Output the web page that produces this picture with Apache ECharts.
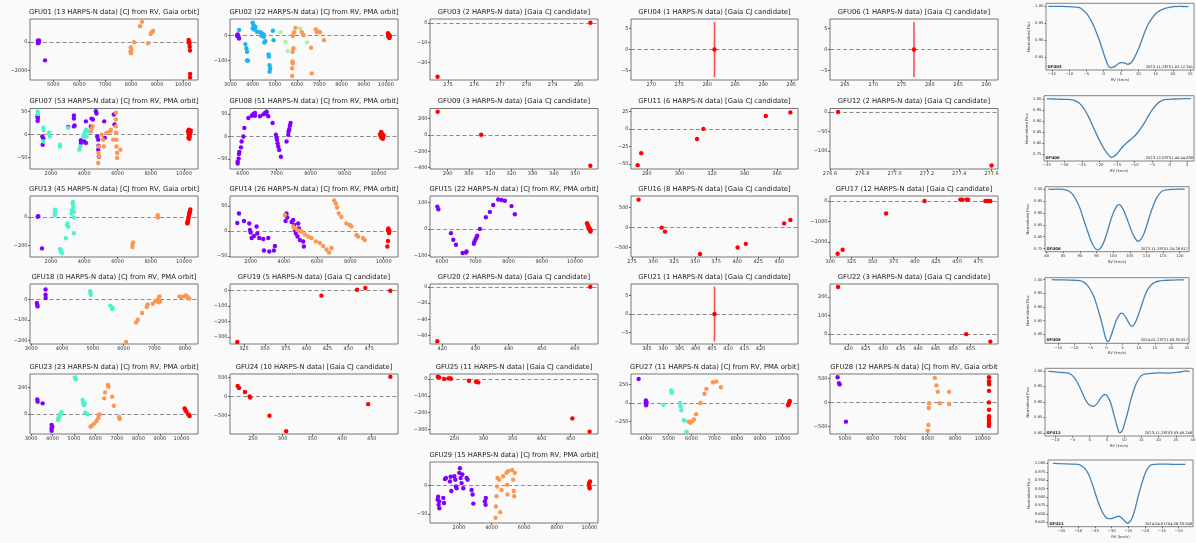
<!DOCTYPE html>
<html><head><meta charset="utf-8">
<script src="https://cdn.jsdelivr.net/npm/echarts@6/dist/echarts.min.js"></script>
<style>html,body{margin:0;padding:0;background:#fafafa}#c{width:1196px;height:543px}</style>
</head><body><div id="c"></div><script>
// ---------------- DATA ----------------
const GFU01_purple=[[4400,80],[4420,20],[4440,-40],[4410,-90],[4450,110],[4430,-10],[4680,-1280]];
const GFU01_orange=[[8346,1090],[8423,1400],[7987,-370],[8013,-560],[8000,-790],[7974,-670],[8115,-20],[8654,-90],[8756,560],[8808,700],[8846,770]];
const GFU01_red=[[10218,140],[10230,60],[10240,0],[10250,-90],[10260,-330],[10270,-600],[10275,-2230],[10275,-2470],[10225,-30]];
const GFU01_xr=[4100,10580], GFU01_yr=[-2650,1600], GFU01_xt=[5000,6000,7000,8000,9000,10000], GFU01_yt=[-2000,0];

const GFU02_purple=[[3328,5],[3358,-4],[3388,-11],[3300,0]];
const GFU02_blue=[[3388,23],[4000,53],[4045,43],[4120,36],[4100,30],[4000,30],[4060,25],[4194,16],[4343,14],[4420,9],[4493,5],[4400,0],[4500,-4],[4567,-22],[4522,-28],[4940,-18],[4910,20],[3672,-34],[3716,-51],[3746,-65],[3746,-101],[3790,-101],[4716,-76],[4731,-85],[4761,-120],[4761,-146],[4790,-133]];
const GFU02_green=[[5254,14],[5478,-24],[5582,-62],[6134,30],[6448,-27]];
const GFU02_orange=[[5925,32],[5866,14],[5806,0],[5836,-51],[5800,-65],[5791,-105],[5806,-112],[5776,-132],[5776,-164],[6209,15],[6284,3],[6627,-49],[6657,-153],[6836,26],[6880,15],[6970,16],[7030,14],[7209,-18]];
const GFU02_red=[[10090,10],[10110,5],[10120,0],[10130,-3],[10140,-6],[10150,-9],[10160,2],[10100,-2],[10170,-5]];
const GFU02_xr=[2980,10540], GFU02_yr=[-180,68], GFU02_xt=[3000,4000,5000,6000,7000,8000,9000,10000], GFU02_yt=[-100,0];

const GFU03_red=[[274.6,-27.1],[280.45,0]];
const GFU03_xr=[274.31,280.74], GFU03_yr=[-28.7,1.9], GFU03_xt=[275,276,277,278,279,280], GFU03_yt=[-20,-10,0];

const GFU04_red=[[281.3,0]], GFU04_err=[[281.3,-6.6],[281.3,6.6]];
const GFU04_xr=[266.4,296.2], GFU04_yr=[-7.3,7.3], GFU04_xt=[270,275,280,285,290,295], GFU04_yt=[-5,0,5];

const GFU06_red=[[277.2,0]], GFU06_err=[[277.2,-6.6],[277.2,6.6]];
const GFU06_xr=[262.35,292.06], GFU06_yr=[-7.3,7.3], GFU06_xt=[265,270,275,280,285,290], GFU06_yt=[-5,0,5];

const GFU07_purple=[[1200,30],[1210,36],[1190,40],[1220,44],[1500,-22],[1480,-4],[1540,-8],[3040,17],[3380,42],[3380,35],[3380,18],[3420,20],[3800,-12],[3800,-18],[4100,29],[4000,-15],[4100,-18],[4400,18],[4440,35],[4520,33],[4700,51],[4740,46],[4780,-4],[4840,-11],[4860,-24],[4840,-33],[4880,-48],[5200,29],[5240,-7],[5780,44],[5820,22]];
const GFU07_teal=[[1200,50],[1220,45],[1540,15],[1560,10],[1540,-15],[1900,5],[1900,0],[1940,-4],[2540,-22],[2540,-26],[3040,15],[3700,-33],[3760,-26],[4000,1],[4060,7],[4120,11],[4200,7],[4140,-4],[3940,-4]];
const GFU07_orange=[[4400,7],[4440,13],[4500,18],[4880,-26],[4860,-40],[4900,-48],[4840,-62],[5040,0],[5140,-11],[5180,-26],[5340,4],[5540,7],[5600,11],[5900,48],[5900,33],[5900,18],[5920,4],[5940,-11],[5940,-26],[5980,-40],[5980,-51],[6180,-33],[5740,-11]];
const GFU07_red=[[10240,7],[10280,4],[10300,0],[10340,-4],[10380,5],[10260,-7],[10360,2],[10400,9],[10320,-9],[10280,11]];
const GFU07_xr=[740,10840], GFU07_yr=[-75,57], GFU07_xt=[2000,4000,6000,8000,10000], GFU07_yt=[-50,0,50];

const GFU08_purple=[[5853,-60],[5853,-56],[5882,-49],[5892,-39],[5902,-34],[5951,-24],[5970,-11],[6020,0],[6049,19],[6167,41],[6265,46],[6314,50],[6363,52],[6363,46],[6510,45],[6608,49],[6657,52],[6706,55],[6700,50],[6755,45],[6882,30],[6980,4],[7000,-2],[7010,-7],[7029,-15],[7049,-22],[7078,-30],[7127,-45],[7294,-11],[7343,4],[7353,11],[7372,16],[7392,24],[7412,30]];
const GFU08_red=[[10050,5],[10070,0],[10090,-3],[10100,8],[10120,2],[10130,-5],[10150,3],[10080,10],[10140,-2]];
const GFU08_xr=[5627,10578], GFU08_yr=[-72,62], GFU08_xt=[6000,7000,8000,9000,10000], GFU08_yt=[-50,0,50];

const GFU09_red=[[285.3,280],[305.8,0],[357.2,-376]];
const GFU09_xr=[281.7,360.8], GFU09_yr=[-416,320], GFU09_xt=[290,300,310,320,330,340,350], GFU09_yt=[-400,-200,0,200];

const GFU11_red=[[274.3,-51.9],[276.5,-34.7],[310.8,-14.4],[314.7,0],[353.1,18.5],[368.2,23.6]];
const GFU11_xr=[270.2,372.9], GFU11_yr=[-57.4,29.2], GFU11_xt=[280,300,320,340,360], GFU11_yt=[-50,-25,0,25];

const GFU12_red=[[276.65,0],[277.6,-138]];
const GFU12_xr=[276.6,277.64], GFU12_yr=[-147,9], GFU12_xt=[276.6,276.8,277.0,277.2,277.4,277.6], GFU12_yt=[-100,-50,0];

const GFU13_purple=[[1200,0],[1240,5],[1460,-220]];
const GFU13_teal=[[2240,50],[2240,34],[2260,23],[2220,12],[2540,-225],[2600,-241],[2660,-253],[2620,-235],[2900,-149],[2960,-57],[3040,-69],[3000,-46],[3240,23],[3260,46],[3300,92],[3320,103],[3340,69],[3380,34],[3380,-5],[3380,-115]];
const GFU13_orange=[[6900,-195],[6940,-179],[6900,-211],[8420,11],[8440,-5]];
const GFU13_red=[[10200,-46],[10220,-40],[10240,-28],[10260,-12],[10280,0],[10300,12],[10320,23],[10340,34],[10360,41],[10380,51],[10210,-35],[10330,28]];
const GFU13_xr=[740,10840], GFU13_yr=[-280,145], GFU13_xt=[2000,4000,6000,8000,10000], GFU13_yt=[-200,0];

const GFU14_purple=[[1200,16],[1300,35],[1600,20],[1920,15],[1960,2],[2000,-3],[2060,-14],[2200,-10],[2360,9],[2400,-5],[2520,-14],[2760,-16],[2800,-39],[3060,-14],[3120,-41],[3400,-39],[3460,-30],[4100,20],[4160,35],[4200,27],[4460,18],[4560,22],[4620,12],[4660,2],[4720,-5],[4820,-11],[4860,15],[4900,5],[4960,-18],[5160,-21],[5200,-31]];
const GFU14_orange=[[4060,32],[4560,9],[4640,6],[4800,2],[4900,0],[5060,-1],[5260,-7],[5460,-11],[5660,-14],[5920,-21],[6160,-24],[6360,-30],[6560,-37],[6720,-43],[6860,-34],[7020,61],[7120,55],[7200,47],[7300,35],[7460,28],[7760,15],[7960,12],[8060,9],[8360,-8],[8460,-11],[8760,-14],[8860,-18]];
const GFU14_red=[[10260,2],[10280,5],[10300,-1],[10320,-4],[10260,-20],[10220,-31],[10340,0]];
const GFU14_xr=[760,10860], GFU14_yr=[-52,70], GFU14_xt=[2000,4000,6000,8000,10000], GFU14_yt=[-50,0,50];

const GFU15_purple=[[5860,84],[5890,74],[6270,-16],[6340,-41],[6420,-60],[6620,-91],[6720,-89],[6740,-85],[6960,-56],[6980,-47],[7010,-39],[7040,-31],[7060,-26],[7140,0],[7320,44],[7440,64],[7540,90],[7690,111],[7790,109],[7890,106],[8090,86],[8190,55]];
const GFU15_red=[[10360,21],[10380,15],[10400,9],[10420,3],[10440,-4],[10460,-10],[10470,-6],[10390,12],[10410,6],[10450,-1]];
const GFU15_xr=[5640,10690], GFU15_yr=[-106,124], GFU15_xt=[6000,7000,8000,9000,10000], GFU15_yt=[-100,0,100];

const GFU16_red=[[282.8,702],[310.3,0],[314.2,-99],[355.8,-661],[400.5,-496],[410.3,-405],[455.8,107],[463.2,190]];
const GFU16_xr=[273.8,472.3], GFU16_yr=[-735,793], GFU16_xt=[275,300,325,350,375,400,425,450], GFU16_yt=[-500,0,500];

const GFU17_red=[[308.7,-2581],[314.6,-2387],[366,-613],[411.5,0],[453.8,65],[456,65],[460.9,65],[463,65],[483.4,0],[486.5,0],[489.3,0],[484.8,0]];
const GFU17_xr=[299.7,498.3], GFU17_yr=[-2742,242], GFU17_xt=[300,325,350,375,400,425,450,475], GFU17_yt=[-2000,-1000,0];

const GFU18_purple=[[3184,-16],[3206,-33],[3195,-25],[3465,49],[3465,24],[3470,8]];
const GFU18_teal=[[4916,41],[4937,24],[4926,32],[5565,-29],[5630,-46],[5650,-40]];
const GFU18_orange=[[6084,-206],[6409,-111],[6463,-98],[6604,-65],[6755,-36],[6788,-24],[6950,-20],[7037,-8],[7113,0],[7145,8],[7167,16],[7190,-8],[7145,-13],[7816,16],[7870,13],[7977,16],[8032,20],[8086,13],[8140,5]];
const GFU18_xr=[2960,8420], GFU18_yr=[-216,76], GFU18_xt=[3000,4000,5000,6000,7000,8000], GFU18_yt=[-200,-100,0];

const GFU19_red=[[317,-332],[417.8,-34],[460.5,4],[470.4,15],[500.3,-2]];
const GFU19_xr=[308.3,509.5], GFU19_yr=[-345,41], GFU19_xt=[325,350,375,400,425,450,475], GFU19_yt=[-300,-200,-100,0];

const GFU20_red=[[418.5,-67.2],[464.7,0]];
const GFU20_xr=[416.3,467], GFU20_yr=[-70.5,3.4], GFU20_xt=[420,430,440,450,460], GFU20_yt=[-60,-40,-20,0];

const GFU21_red=[[405.8,0]], GFU21_err=[[405.8,-7.5],[405.8,7.5]];
const GFU21_xr=[380.1,431.5], GFU21_yr=[-8.2,8.2], GFU21_xt=[380,385,390,395,400,405,410,415,420], GFU21_yt=[-5,0,5];

const GFU22_red=[[417.1,254],[453.8,0],[460.7,-40]];
const GFU22_xr=[414.8,462.9], GFU22_yr=[-53,270], GFU22_xt=[420,425,430,435,440,445,450,455], GFU22_yt=[0,100,200];

const GFU23_purple=[[3294,111],[3310,94],[3542,81],[3960,-84],[3960,-109],[3960,-127],[3990,-96]];
const GFU23_teal=[[5043,278],[5090,263],[5060,270],[4270,-33],[4316,-8],[4330,-20],[4393,5],[4424,13],[4260,-46],[5399,106],[5430,81],[5461,68],[5500,81],[5523,10],[5647,-3]];
const GFU23_orange=[[5771,-96],[5833,-89],[5941,-71],[6050,-53],[6127,-33],[6143,-8],[6204,-3],[6406,119],[6452,164],[6576,220],[6607,208],[6777,132],[6854,63],[7133,-38],[7102,-25]];
const GFU23_red=[[10152,43],[10183,30],[10229,18],[10353,-8],[10384,-15],[10320,-3]];
const GFU23_xr=[2954,10771], GFU23_yr=[-152,304], GFU23_xt=[3000,4000,5000,6000,7000,8000,9000,10000], GFU23_yt=[0,200];

const GFU24_red=[[224.3,278],[226.5,226],[236.6,122],[244.4,0],[245.5,-26],[277.9,-504],[305.9,-913],[443.9,-200],[481.3,522]];
const GFU24_xr=[211.4,494.2], GFU24_yr=[-985,594], GFU24_xt=[250,300,350,400,450], GFU24_yt=[-1000,-500,0,500];

const GFU25_red=[[221.4,14],[223.7,10],[232.3,0],[239.7,4],[242.6,4],[244,2],[275.1,-10],[287.1,-16],[291.1,-20],[452.9,-235],[482.6,-314]];
const GFU25_xr=[208,497], GFU25_yr=[-328,30], GFU25_xt=[250,300,350,400,450], GFU25_yt=[-300,-200,-100,0];

const GFU27_purple=[[3681,323],[4000,35],[4015,-9],[4030,10],[4010,-31],[3990,0]];
const GFU27_teal=[[4769,-22],[5118,168],[5133,137],[5125,150],[5495,0],[5524,-44],[5553,-97],[5669,-230],[5700,-236],[5785,-385]];
const GFU27_orange=[[5887,-252],[5959,-265],[6046,-243],[6104,-221],[6206,-150],[6395,0],[6569,124],[6656,190],[6946,279],[7091,288],[7294,212]];
const GFU27_red=[[10241,-31],[10284,0],[10313,27],[10255,-15],[10300,15]];
const GFU27_xr=[3347,10676], GFU27_yr=[-416,389], GFU27_xt=[4000,5000,6000,7000,8000,9000,10000], GFU27_yt=[-250,0,250];

const GFU28_purple=[[4734,531],[4783,408],[4807,381],[5036,-401]];
const GFU28_orange=[[8261,517],[8321,361],[8370,224],[8056,-14],[8043,-116],[8031,-469],[8007,-592],[8442,-14],[8780,224],[8780,-34]];
const GFU28_red=[[10229,531],[10229,449],[10229,408],[10235,381],[10229,245],[10229,0],[10229,-150],[10229,-286],[10229,-340],[10229,-388],[10229,-435],[10229,-469],[10229,-490]];
const GFU28_xr=[4457,10556], GFU28_yr=[-660,599], GFU28_xt=[5000,6000,7000,8000,9000,10000], GFU28_yt=[-500,0,500];

const GFU29_purple=[[694,-25],[755,-34],[796,-40],[720,-20],[790,-28],[1041,-22],[1082,-31],[1143,11],[1204,13],[1449,7],[1490,15],[1531,-10],[1714,16],[1776,10],[1816,-2],[1857,-5],[2020,22],[2061,30],[2102,13],[2163,4],[2204,19],[2265,-5],[2469,13],[2531,10],[2776,-8],[2837,-16],[2878,-32],[3592,-28],[3633,-34],[3650,-22]];
const GFU29_orange=[[4245,-57],[4265,-37],[4306,-19],[4347,-2],[4367,13],[4469,10],[4531,-47],[4612,-8],[4714,16],[4918,22],[4959,1],[4980,-16],[5020,25],[5265,27],[5327,10],[5367,-10],[5429,22],[5388,-19]];
const GFU29_red=[[9980,4],[10000,-2],[10020,-5],[9990,1],[10041,7]];
const GFU29_xr=[224,10531], GFU29_yr=[-66,41], GFU29_xt=[2000,4000,6000,8000,10000], GFU29_yt=[-50,0];

// CCF spectra (RV km/s, normalized flux)
const SPEC_GFU03=[[-16,0.999],[-14,0.999],[-12,0.999],[-10,0.998],[-8,0.997],[-7,0.995],[-6,0.988],[-5,0.978],[-4,0.963],[-3,0.944],[-2,0.918],[-1,0.891],[0,0.859],[1,0.830],[1.5,0.821],[2,0.818],[3,0.820],[4,0.828],[5,0.833],[6,0.832],[7,0.828],[8,0.833],[9,0.850],[10,0.872],[11,0.899],[12,0.927],[13,0.949],[14,0.964],[15,0.977],[16,0.985],[17,0.990],[18,0.994],[19,0.996],[20,0.998],[22,0.999],[24,0.998],[24.5,0.999]];
const SPEC_GFU03_xr=[-16.7,26.1], SPEC_GFU03_yr=[0.811,1.008], SPEC_GFU03_xt=[-15,-10,-5,0,5,10,15,20,25], SPEC_GFU03_yt=[0.85,0.90,0.95,1.00];
const SPEC_GFU06=[[-35,1.000],[-33,0.999],[-31,0.998],[-29,0.997],[-27,0.992],[-26,0.983],[-25,0.968],[-24,0.945],[-23,0.915],[-22,0.880],[-21,0.845],[-20,0.812],[-19,0.782],[-18,0.758],[-17,0.740],[-16.5,0.735],[-16,0.738],[-15,0.752],[-14,0.772],[-13,0.790],[-12,0.805],[-11,0.818],[-10,0.832],[-9,0.850],[-8,0.872],[-7,0.897],[-6,0.925],[-5,0.950],[-4,0.970],[-3,0.985],[-2,0.993],[-1,0.997],[1,0.999],[3,1.000],[5,1.001],[6,1.001]];
const SPEC_GFU06_xr=[-35.8,6.9], SPEC_GFU06_yr=[0.719,1.014], SPEC_GFU06_xt=[-35,-30,-25,-20,-15,-10,-5,0,5], SPEC_GFU06_yt=[0.75,0.80,0.85,0.90,0.95,1.00];
const SPEC_GFU08=[[80.5,1.0],[82,0.999],[84,1.0],[86,0.996],[87,0.989],[88,0.975],[89,0.951],[90,0.920],[91,0.877],[92,0.836],[93,0.795],[94,0.763],[95,0.746],[95.5,0.745],[96,0.749],[97,0.771],[98,0.810],[99,0.857],[100,0.899],[101,0.926],[101.5,0.935],[102,0.934],[103,0.915],[104,0.882],[105,0.843],[106,0.808],[107,0.785],[107.5,0.781],[108,0.784],[109,0.804],[110,0.843],[111,0.888],[112,0.929],[113,0.961],[114,0.982],[115,0.993],[116,0.997],[118,0.999],[120,1.0],[121.5,1.0]];
const SPEC_GFU08_xr=[79.5,122.8], SPEC_GFU08_yr=[0.737,1.01], SPEC_GFU08_xt=[80,85,90,95,100,105,110,115,120], SPEC_GFU08_yt=[0.75,0.80,0.85,0.90,0.95,1.00];
const SPEC_GFU09=[[-17,1.000],[-15,0.999],[-13,0.999],[-11,0.998],[-9,0.997],[-8,0.995],[-7,0.990],[-6,0.980],[-5,0.963],[-4,0.940],[-3,0.905],[-2,0.865],[-1,0.820],[-0.5,0.795],[0,0.777],[0.5,0.773],[1,0.782],[2,0.815],[3,0.850],[4,0.872],[4.5,0.877],[5,0.876],[6,0.862],[7,0.840],[7.5,0.832],[8,0.830],[9,0.845],[10,0.875],[11,0.910],[12,0.945],[13,0.968],[14,0.982],[15,0.990],[16,0.994],[18,0.997],[20,0.998],[22,0.999],[24,0.999]];
const SPEC_GFU09_xr=[-19.1,25.6], SPEC_GFU09_yr=[0.767,1.007], SPEC_GFU09_xt=[-15,-10,-5,0,5,10,15,20,25], SPEC_GFU09_yt=[0.80,0.85,0.90,0.95,1.00];
const SPEC_GFU12=[[-12,0.999],[-10,0.997],[-8,0.995],[-6,0.992],[-5,0.985],[-4,0.970],[-3,0.950],[-2,0.925],[-1,0.902],[0,0.889],[1,0.886],[2,0.893],[3,0.910],[4,0.922],[4.5,0.924],[5,0.920],[6,0.900],[7,0.860],[8,0.820],[8.7,0.800],[9.5,0.808],[10,0.825],[11,0.865],[12,0.910],[13,0.945],[14,0.970],[15,0.985],[16,0.990],[18,0.992],[20,0.994],[22,0.993],[24,0.994],[26,0.996],[28,1.000],[29,0.998]];
const SPEC_GFU12_xr=[-13,30], SPEC_GFU12_yr=[0.790,1.0086], SPEC_GFU12_xt=[-10,-5,0,5,10,15,20,25,30], SPEC_GFU12_yt=[0.80,0.85,0.90,0.95,1.00];
const SPEC_GFU21=[[-47.5,1.000],[-45,0.999],[-42,0.998],[-40,0.997],[-39,0.993],[-38,0.985],[-37,0.970],[-36,0.945],[-35,0.915],[-34,0.885],[-33,0.860],[-32,0.843],[-31,0.836],[-30,0.836],[-29,0.840],[-28,0.843],[-27.5,0.842],[-27,0.838],[-26,0.828],[-25.3,0.822],[-25,0.823],[-24,0.835],[-23,0.865],[-22,0.905],[-21,0.940],[-20,0.970],[-19,0.988],[-18,0.996],[-16,0.998],[-14,0.998],[-12,0.997],[-10,0.997],[-8,0.997]];
const SPEC_GFU21_xr=[-49,-5.7], SPEC_GFU21_yr=[0.812,1.010], SPEC_GFU21_xt=[-45,-40,-35,-30,-25,-20,-15,-10], SPEC_GFU21_yt=[0.825,0.850,0.875,0.900,0.925,0.950,0.975,1.000];

// ---------------- PANELS ----------------
const COL={purple:'#8000ff',blue:'#1cb4eb',teal:'#4df2ce',green:'#a6f5a0',orange:'#ff964f',red:'#ff0000'};
const panels=[
 ['GFU01 (13 HARPS-N data) [CJ from RV, Gaia orbit]',0,0,GFU01_xr,GFU01_yr,GFU01_xt,GFU01_yt,[['purple',GFU01_purple],['orange',GFU01_orange],['red',GFU01_red]]],
 ['GFU02 (22 HARPS-N data) [CJ from RV, PMA orbit]',0,1,GFU02_xr,GFU02_yr,GFU02_xt,GFU02_yt,[['purple',GFU02_purple],['blue',GFU02_blue],['green',GFU02_green],['orange',GFU02_orange],['red',GFU02_red]]],
 ['GFU03 (2 HARPS-N data) [Gaia CJ candidate]',0,2,GFU03_xr,GFU03_yr,GFU03_xt,GFU03_yt,[['red',GFU03_red]]],
 ['GFU04 (1 HARPS-N data) [Gaia CJ candidate]',0,3,GFU04_xr,GFU04_yr,GFU04_xt,GFU04_yt,[['red',GFU04_red]],GFU04_err],
 ['GFU06 (1 HARPS-N data) [Gaia CJ candidate]',0,4,GFU06_xr,GFU06_yr,GFU06_xt,GFU06_yt,[['red',GFU06_red]],GFU06_err],
 ['GFU07 (53 HARPS-N data) [CJ from RV, PMA orbit]',1,0,GFU07_xr,GFU07_yr,GFU07_xt,GFU07_yt,[['purple',GFU07_purple],['teal',GFU07_teal],['orange',GFU07_orange],['red',GFU07_red]]],
 ['GFU08 (51 HARPS-N data) [CJ from RV, PMA orbit]',1,1,GFU08_xr,GFU08_yr,GFU08_xt,GFU08_yt,[['purple',GFU08_purple],['red',GFU08_red]]],
 ['GFU09 (3 HARPS-N data) [Gaia CJ candidate]',1,2,GFU09_xr,GFU09_yr,GFU09_xt,GFU09_yt,[['red',GFU09_red]]],
 ['GFU11 (6 HARPS-N data) [Gaia CJ candidate]',1,3,GFU11_xr,GFU11_yr,GFU11_xt,GFU11_yt,[['red',GFU11_red]]],
 ['GFU12 (2 HARPS-N data) [Gaia CJ candidate]',1,4,GFU12_xr,GFU12_yr,GFU12_xt,GFU12_yt,[['red',GFU12_red]],null,1],
 ['GFU13 (45 HARPS-N data) [CJ from RV, Gaia orbit]',2,0,GFU13_xr,GFU13_yr,GFU13_xt,GFU13_yt,[['purple',GFU13_purple],['teal',GFU13_teal],['orange',GFU13_orange],['red',GFU13_red]]],
 ['GFU14 (26 HARPS-N data) [CJ from RV, PMA orbit]',2,1,GFU14_xr,GFU14_yr,GFU14_xt,GFU14_yt,[['purple',GFU14_purple],['orange',GFU14_orange],['red',GFU14_red]]],
 ['GFU15 (22 HARPS-N data) [CJ from RV, PMA orbit]',2,2,GFU15_xr,GFU15_yr,GFU15_xt,GFU15_yt,[['purple',GFU15_purple],['red',GFU15_red]]],
 ['GFU16 (8 HARPS-N data) [Gaia CJ candidate]',2,3,GFU16_xr,GFU16_yr,GFU16_xt,GFU16_yt,[['red',GFU16_red]]],
 ['GFU17 (12 HARPS-N data) [Gaia CJ candidate]',2,4,GFU17_xr,GFU17_yr,GFU17_xt,GFU17_yt,[['red',GFU17_red]]],
 ['GFU18 (0 HARPS-N data) [CJ from RV, PMA orbit]',3,0,GFU18_xr,GFU18_yr,GFU18_xt,GFU18_yt,[['purple',GFU18_purple],['teal',GFU18_teal],['orange',GFU18_orange]]],
 ['GFU19 (5 HARPS-N data) [Gaia CJ candidate]',3,1,GFU19_xr,GFU19_yr,GFU19_xt,GFU19_yt,[['red',GFU19_red]]],
 ['GFU20 (2 HARPS-N data) [Gaia CJ candidate]',3,2,GFU20_xr,GFU20_yr,GFU20_xt,GFU20_yt,[['red',GFU20_red]]],
 ['GFU21 (1 HARPS-N data) [Gaia CJ candidate]',3,3,GFU21_xr,GFU21_yr,GFU21_xt,GFU21_yt,[['red',GFU21_red]],GFU21_err],
 ['GFU22 (3 HARPS-N data) [Gaia CJ candidate]',3,4,GFU22_xr,GFU22_yr,GFU22_xt,GFU22_yt,[['red',GFU22_red]]],
 ['GFU23 (23 HARPS-N data) [CJ from RV, PMA orbit]',4,0,GFU23_xr,GFU23_yr,GFU23_xt,GFU23_yt,[['purple',GFU23_purple],['teal',GFU23_teal],['orange',GFU23_orange],['red',GFU23_red]]],
 ['GFU24 (10 HARPS-N data) [Gaia CJ candidate]',4,1,GFU24_xr,GFU24_yr,GFU24_xt,GFU24_yt,[['red',GFU24_red]]],
 ['GFU25 (11 HARPS-N data) [Gaia CJ candidate]',4,2,GFU25_xr,GFU25_yr,GFU25_xt,GFU25_yt,[['red',GFU25_red]]],
 ['GFU27 (11 HARPS-N data) [CJ from RV, PMA orbit]',4,3,GFU27_xr,GFU27_yr,GFU27_xt,GFU27_yt,[['purple',GFU27_purple],['teal',GFU27_teal],['orange',GFU27_orange],['red',GFU27_red]]],
 ['GFU28 (12 HARPS-N data) [CJ from RV, Gaia orbit',4,4,GFU28_xr,GFU28_yr,GFU28_xt,GFU28_yt,[['purple',GFU28_purple],['orange',GFU28_orange],['red',GFU28_red]]],
 ['GFU29 (15 HARPS-N data) [CJ from RV, PMA orbit]',5,2,GFU29_xr,GFU29_yr,GFU29_xt,GFU29_yt,[['purple',GFU29_purple],['orange',GFU29_orange],['red',GFU29_red]]]
];
const spectra=[
 ['GFU03','2023-11-26T01:02:12.341',SPEC_GFU03,SPEC_GFU03_xr,SPEC_GFU03_yr,SPEC_GFU03_xt,SPEC_GFU03_yt,2],
 ['GFU06','2023-12-03T01:40:44.638',SPEC_GFU06,SPEC_GFU06_xr,SPEC_GFU06_yr,SPEC_GFU06_xt,SPEC_GFU06_yt,2],
 ['GFU08','2023-11-29T01:24:28.817',SPEC_GFU08,SPEC_GFU08_xr,SPEC_GFU08_yr,SPEC_GFU08_xt,SPEC_GFU08_yt,2],
 ['GFU09','2024-01-23T21:03:35.817',SPEC_GFU09,SPEC_GFU09_xr,SPEC_GFU09_yr,SPEC_GFU09_xt,SPEC_GFU09_yt,2],
 ['GFU12','2023-11-28T03:03:49.246',SPEC_GFU12,SPEC_GFU12_xr,SPEC_GFU12_yr,SPEC_GFU12_xt,SPEC_GFU12_yt,2],
 ['GFU21','2024-04-01T04:56:33.048',SPEC_GFU21,SPEC_GFU21_xr,SPEC_GFU21_yr,SPEC_GFU21_xt,SPEC_GFU21_yt,3]
];

// ---------------- LAYOUT ----------------
const colX=[[30,198],[230,398],[430,598],[631,798],[830,998]];
const rowY=[[19,80],[108.5,169],[196,257],[284,344],[374,434],[462,523]];
const specBox=[[1046,1194,3.3,70],[1044,1194,95.7,161],[1045,1189,186.7,251.7],[1045,1189,277.7,343.3],[1045,1193,368.3,436],[1048,1193,460,526.7]];
const FONT='DejaVu Sans';

function fmt(d){return v=>{let s=d>0?Number(v).toFixed(d):String(Math.round(v));if(s==='-0')s='0';return s.replace('-','\u2212');};}
function axis(i,r,t,d,fs,tl,pos,extra){
 return Object.assign({gridIndex:i,type:'value',position:pos,min:r[0],max:r[1],scale:true,
  axisLine:{show:false,onZero:false},splitLine:{show:false},
  axisTick:{show:true,length:tl,customValues:t,lineStyle:{color:'#444',width:0.8}},
  axisLabel:{customValues:t,fontSize:fs,margin:2.5,color:'#333',fontFamily:FONT,formatter:fmt(d),hideOverlap:false}},extra||{});
}

const grids=[],xAxis=[],yAxis=[],series=[],graphic=[];
panels.forEach((p,i)=>{
 const [title,r,c,xr,yr,xt,yt,groups,err,xd]=p;
 const [l,rr]=colX[c],[t,b]=rowY[r];
 grids.push({left:l,top:t,width:rr-l,height:b-t,show:true,borderColor:'#555',borderWidth:0.8,backgroundColor:'transparent',containLabel:false,outerBoundsMode:'none'});
 xAxis.push(axis(i,xr,xt,xd||0,5,2,'bottom'));
 yAxis.push(axis(i,yr,yt,0,5,2,'left'));
 if(err){series.push({type:'line',xAxisIndex:i,yAxisIndex:i,data:err,showSymbol:false,silent:true,z:2,lineStyle:{color:'rgba(255,20,20,0.75)',width:1.6}});}
 groups.forEach((g,k)=>{
  const s={type:'scatter',xAxisIndex:i,yAxisIndex:i,data:g[1],symbolSize:4.4,silent:true,z:3,itemStyle:{color:COL[g[0]],opacity:1}};
  if(k===0){s.markLine={silent:true,symbol:'none',label:{show:false},animation:false,z:1,
    lineStyle:{color:'#8c8c8c',type:[4,2.5],width:1},data:[{yAxis:0}]};}
  series.push(s);
 });
 graphic.push({type:'text',x:(l+rr)/2,y:t-7,silent:true,style:{text:title,fontSize:6.8,fontFamily:FONT,fill:'#222',align:'center',verticalAlign:'middle'}});
});
spectra.forEach((s,j)=>{
 const i=panels.length+j;
 const [lab,date,data,xr,yr,xt,yt,yd]=s;
 const [l,rr,t,b]=specBox[j];
 grids.push({left:l,top:t,width:rr-l,height:b-t,show:true,borderColor:'#666',borderWidth:0.8,backgroundColor:'transparent',containLabel:false,outerBoundsMode:'none'});
 xAxis.push(axis(i,xr,xt,0,3.8,1.5,'bottom',{name:'RV (km/s)',nameLocation:'middle',nameGap:8,nameTextStyle:{fontSize:3.8,fontFamily:FONT,color:'#333'}}));
 yAxis.push(axis(i,yr,yt,yd,3.8,1.5,'left',{name:'Normalized Flux',nameLocation:'middle',nameGap:yd===3?16:14,nameRotate:90,nameTextStyle:{fontSize:3.8,fontFamily:FONT,color:'#333'}}));
 series.push({type:'line',xAxisIndex:i,yAxisIndex:i,data:data,showSymbol:false,smooth:0.35,silent:true,lineStyle:{color:'#4682b4',width:1.3}});
 graphic.push({type:'text',x:l+1.5,y:b-1,silent:true,style:{text:lab,fontSize:3.8,fontWeight:'bold',fontFamily:FONT,fill:'#111',align:'left',verticalAlign:'bottom'}});
 graphic.push({type:'text',x:rr-1,y:b-1,silent:true,style:{text:date,fontSize:3.6,fontFamily:FONT,fill:'#222',align:'right',verticalAlign:'bottom'}});
});

const chart=echarts.init(document.getElementById('c'),null,{renderer:'canvas'});
chart.setOption({backgroundColor:'#fafafa',animation:false,grid:grids,xAxis:xAxis,yAxis:yAxis,series:series,graphic:graphic});
</script></body></html>
